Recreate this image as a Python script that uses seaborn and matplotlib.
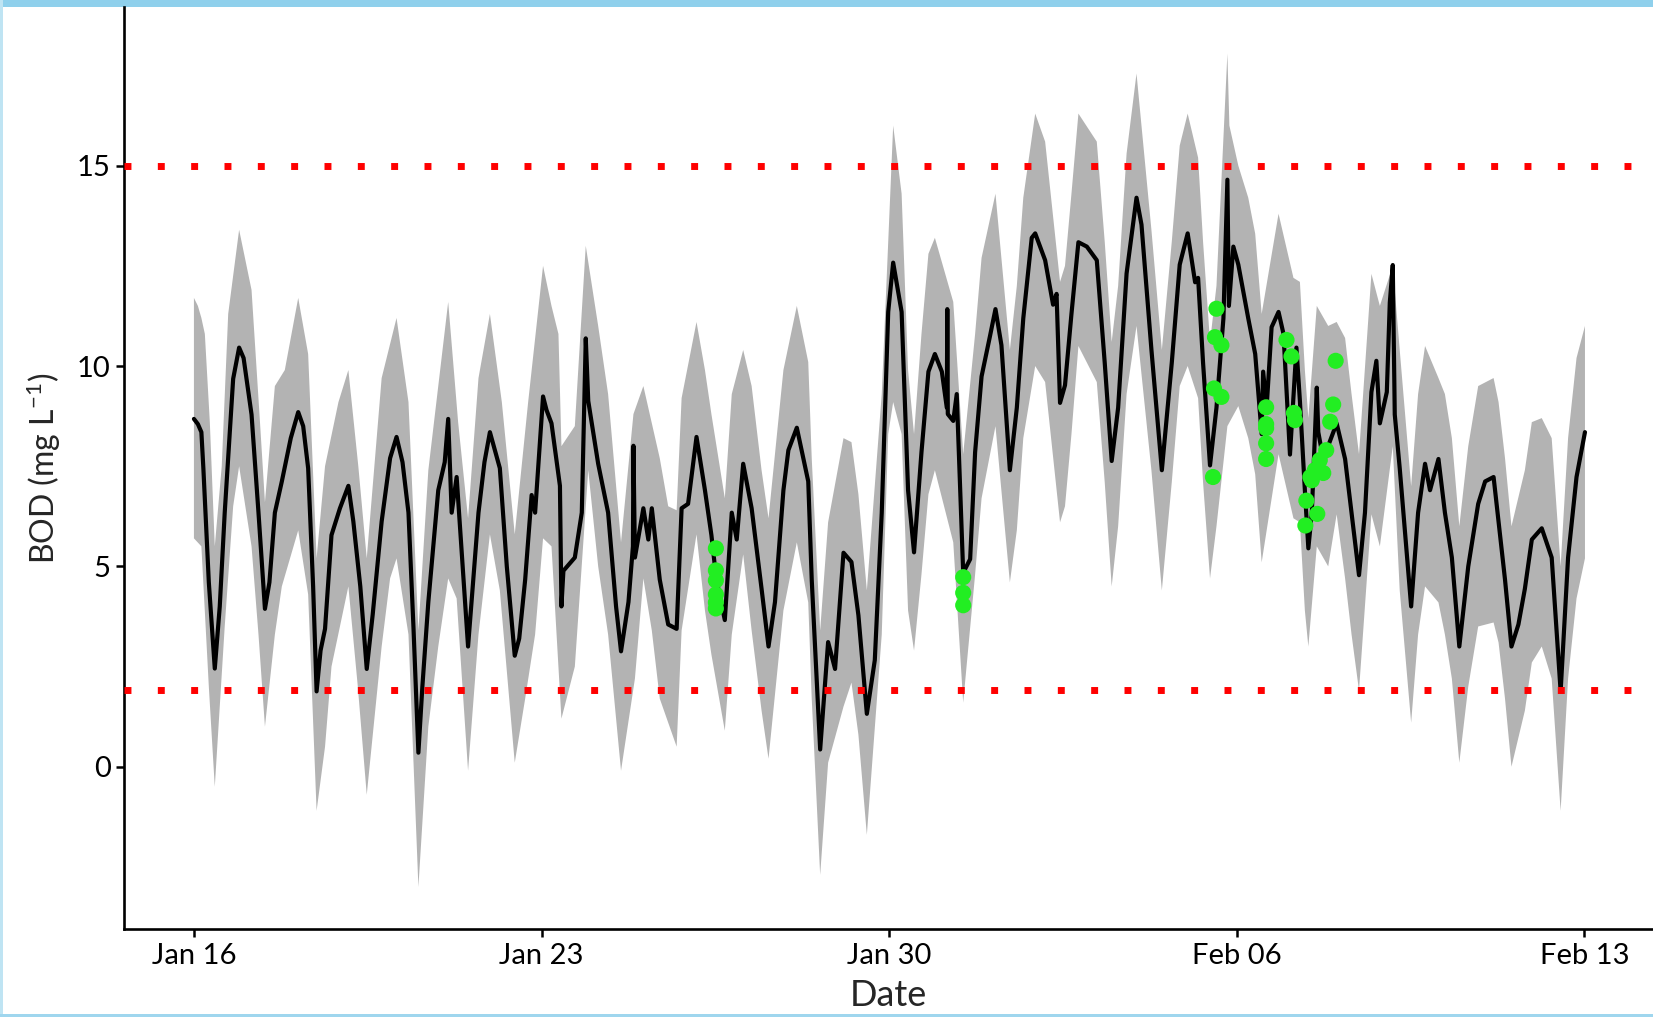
import numpy as np
import pandas as pd
import matplotlib
matplotlib.use("Agg")
import matplotlib.pyplot as plt
import matplotlib.dates as mdates
from matplotlib.patches import Rectangle
import seaborn as sns

# ---------------- data ----------------
start = pd.Timestamp("2017-01-16 00:00")

# modelled mean BOD: day offset from Jan 16, value (mg/L)
mean_days = [0.00, 0.08, 0.15, 0.19, 0.30, 0.42, 0.52, 0.62, 0.79, 0.91, 1.00, 1.16, 1.30, 1.43, 1.52,
             1.63, 1.77, 1.95, 2.10, 2.20, 2.30, 2.40, 2.47, 2.55, 2.64, 2.77, 2.94, 3.11, 3.21, 3.35,
             3.48, 3.60, 3.78, 3.95, 4.08, 4.20, 4.32, 4.42, 4.52, 4.60, 4.72, 4.92, 5.05, 5.12, 5.19,
             5.29, 5.40, 5.52, 5.62, 5.73, 5.85, 5.96, 6.16, 6.30, 6.46, 6.55, 6.67, 6.80, 6.87, 7.03,
             7.10, 7.20, 7.37, 7.40, 7.44, 7.67, 7.81, 7.89, 7.94, 8.14, 8.34, 8.50, 8.60, 8.75, 8.84,
             8.85, 8.88, 9.05, 9.15, 9.22, 9.38, 9.55, 9.72, 9.82, 9.95, 10.12, 10.29, 10.42, 10.52,
             10.69, 10.83, 10.93, 11.06, 11.23, 11.43, 11.57, 11.70, 11.87, 11.97, 12.14, 12.37, 12.44,
             12.61, 12.77, 12.91, 13.08, 13.24, 13.38, 13.55, 13.71, 13.85, 13.98, 14.08, 14.25, 14.38,
             14.50, 14.65, 14.79, 14.92, 15.06, 15.16, 15.17, 15.18, 15.29, 15.36, 15.49, 15.63, 15.73,
             15.86, 16.03, 16.14, 16.26, 16.43, 16.57, 16.70, 16.87, 16.94, 17.14, 17.30, 17.37, 17.44,
             17.54, 17.67, 17.81, 17.98, 18.18, 18.34, 18.48, 18.61, 18.78, 18.98, 19.08, 19.28, 19.49,
             19.69, 19.85, 20.01, 20.16, 20.22, 20.32, 20.46, 20.59, 20.73, 20.81, 20.84, 20.93, 21.03,
             21.23, 21.37, 21.50, 21.53, 21.60, 21.70, 21.84, 21.94, 22.07, 22.14, 22.20, 22.27, 22.37,
             22.44, 22.51, 22.61, 22.64, 22.74, 22.84, 23.01, 23.18, 23.31, 23.46, 23.58, 23.71, 23.81,
             23.88, 24.02, 24.08, 24.14, 24.18, 24.28, 24.51, 24.65, 24.79, 24.89, 25.06, 25.19, 25.33,
             25.48, 25.66, 25.86, 26.00, 26.17, 26.27, 26.40, 26.53, 26.67, 26.80, 26.94, 27.14, 27.34,
             27.52, 27.67, 27.84, 28.01]
mean_bod = [8.68, 8.55, 8.35, 7.45, 4.60, 2.45, 4.00, 6.34, 9.68, 10.46, 10.20, 8.79, 6.34, 3.94, 4.60,
            6.34, 7.12, 8.20, 8.85, 8.50, 7.45, 4.50, 1.88, 2.90, 3.44, 5.78, 6.45, 7.01, 6.12, 4.50,
            2.44, 3.80, 6.12, 7.70, 8.23, 7.60, 6.34, 3.50, 0.35, 2.00, 4.11, 6.90, 7.60, 8.68, 6.34,
            7.23, 5.20, 3.00, 4.60, 6.34, 7.60, 8.35, 7.45, 5.00, 2.77, 3.20, 4.67, 6.78, 6.34, 9.24,
            8.90, 8.57, 7.01, 4.00, 4.89, 5.22, 6.34, 10.69, 9.13, 7.56, 6.34, 4.00, 2.88, 4.11, 5.50,
            8.01, 5.22, 6.45, 5.67, 6.45, 4.67, 3.55, 3.44, 6.45, 6.56, 8.23, 6.90, 5.78, 4.67,
            3.66, 6.34, 5.67, 7.56, 6.45, 4.44, 3.00, 4.11, 6.90, 7.90, 8.46, 7.12, 4.67,
            0.43, 3.11, 2.44, 5.34, 5.11, 3.78, 1.32, 2.66, 6.34, 11.35, 12.58, 11.35, 6.90,
            5.35, 7.85, 9.86, 10.30, 9.86, 8.96, 11.42, 8.80, 8.63, 9.30, 4.84, 5.18, 7.85,
            9.74, 10.75, 11.42, 10.52, 7.40, 8.96, 11.19, 13.20, 13.31, 12.64, 11.53, 11.80, 9.08,
            9.52, 11.30, 13.09, 12.98, 12.64, 10.08, 7.63, 8.96, 12.31, 14.20, 13.53, 10.41, 7.40,
            10.08, 12.53, 13.31, 12.09, 12.20, 10.08, 7.52, 8.96, 11.19, 14.65, 11.50, 12.98, 12.53,
            11.19, 10.30, 8.30, 9.86, 8.96, 10.97, 11.35, 10.80, 7.79, 9.24, 10.46, 9.13, 6.90,
            5.45, 6.34, 9.46, 8.35, 7.68, 8.01, 8.57, 7.68, 6.34, 4.78, 6.34, 9.35, 10.13,
            8.57, 9.35, 11.58, 12.52, 8.79, 7.45, 4.00, 6.34, 7.56, 6.90, 7.68, 6.34, 5.22,
            3.00, 5.00, 6.56, 7.12, 7.23, 6.12, 4.67, 3.00, 3.55, 4.44, 5.67, 5.95, 5.22,
            1.88, 5.22, 7.23, 8.35]

# upper edge of the uncertainty band
upper_days = [0.00, 0.08, 0.15, 0.22, 0.32, 0.42, 0.56, 0.69, 0.91, 1.16, 1.33, 1.43, 1.63, 1.83, 2.10,
              2.30, 2.47, 2.64, 2.91, 3.11, 3.31, 3.48, 3.78, 4.08, 4.32, 4.52, 4.72, 5.12, 5.32,
              5.52, 5.73, 5.96, 6.20, 6.46, 6.73, 7.03, 7.20, 7.34, 7.40, 7.67, 7.89, 8.14, 8.34,
              8.60, 8.85, 9.05, 9.38, 9.55, 9.72, 9.82, 10.12, 10.29, 10.42, 10.69, 10.83, 11.06,
              11.23, 11.43, 11.57, 11.87, 12.14, 12.37, 12.44, 12.61, 12.77, 13.08, 13.24, 13.38,
              13.55, 13.85, 14.08, 14.25, 14.38, 14.50, 14.65, 14.79, 14.92, 15.29, 15.49, 15.73,
              15.86, 16.14, 16.43, 16.57, 16.70, 16.94, 17.14, 17.44, 17.54, 17.67, 17.81, 18.18,
              18.34, 18.48, 18.61, 18.78, 18.98, 19.28, 19.49, 19.69, 19.85, 20.01, 20.22, 20.32,
              20.46, 20.59, 20.81, 20.85, 21.03, 21.23, 21.37, 21.50, 21.84, 22.14, 22.27, 22.37,
              22.44, 22.61, 22.84, 23.01, 23.18, 23.31, 23.46, 23.71, 23.88, 24.14, 24.28, 24.51,
              24.65, 24.79, 25.06, 25.19, 25.33, 25.48, 25.66, 25.86, 26.17, 26.27, 26.40, 26.53,
              26.80, 26.94, 27.14, 27.34, 27.52, 27.67, 27.84, 28.01]
upper_bod = [11.7, 11.5, 11.2, 10.8, 8.6, 5.5, 7.5, 11.3, 13.4, 11.9, 8.6, 6.6, 9.5, 9.9, 11.7,
             10.3, 5.2, 7.5, 9.1, 9.9, 7.5, 5.2, 9.7, 11.2, 9.1, 3.4, 7.4, 11.6, 8.6,
             6.2, 9.7, 11.3, 9.1, 5.8, 9.1, 12.5, 11.5, 10.8, 8.0, 8.5, 13.0, 11.0, 9.3,
             5.6, 8.8, 9.5, 7.7, 6.5, 6.4, 9.2, 11.1, 9.9, 8.8, 6.7, 9.3, 10.4,
             9.5, 7.4, 6.2, 9.9, 11.5, 10.1, 7.7, 3.4, 6.1, 8.2, 8.1, 6.8,
             4.4, 9.3, 16.0, 14.3, 9.9, 8.3, 10.8, 12.8, 13.2, 11.6, 7.8, 10.8,
             12.7, 14.3, 10.4, 12.0, 14.2, 16.3, 15.6, 12.1, 12.5, 14.3, 16.3, 15.6,
             13.1, 10.6, 12.0, 15.3, 17.3, 13.4, 10.4, 13.1, 15.5, 16.3, 15.2, 13.1,
             10.6, 12.0, 17.8, 16.0, 15.0, 14.2, 13.3, 11.3, 13.8, 12.2, 12.1, 9.9,
             8.7, 11.5, 11.0, 11.1, 10.7, 9.3, 7.8, 12.3, 11.5, 12.5, 10.4, 7.0,
             9.3, 10.5, 9.7, 9.3, 8.2, 6.0, 8.0, 9.5, 9.7, 9.1, 7.7, 6.0,
             7.4, 8.6, 8.7, 8.2, 5.0, 8.2, 10.2, 11.0]

# lower edge of the uncertainty band
lower_days = [0.00, 0.15, 0.30, 0.42, 0.62, 0.79, 0.91, 1.16, 1.30, 1.43, 1.63, 1.77, 2.10, 2.30, 2.47,
              2.64, 2.77, 2.94, 3.11, 3.30, 3.48, 3.78, 3.95, 4.08, 4.32, 4.52, 4.72, 4.92, 5.12,
              5.29, 5.52, 5.73, 5.96, 6.16, 6.46, 6.67, 6.87, 7.03, 7.20, 7.40, 7.67, 7.94, 8.14,
              8.34, 8.60, 8.88, 9.05, 9.22, 9.38, 9.72, 9.82, 10.12, 10.29, 10.42, 10.69, 10.83,
              11.06, 11.23, 11.43, 11.57, 11.87, 12.14, 12.37, 12.44, 12.61, 12.77, 13.08, 13.24,
              13.38, 13.55, 13.85, 13.98, 14.08, 14.25, 14.38, 14.50, 14.65, 14.79, 14.92, 15.29,
              15.49, 15.73, 15.86, 16.14, 16.43, 16.57, 16.70, 16.94, 17.14, 17.44, 17.54, 17.67,
              17.81, 18.18, 18.34, 18.48, 18.61, 18.78, 18.98, 19.28, 19.49, 19.69, 19.85, 20.01,
              20.22, 20.32, 20.46, 20.59, 20.81, 21.03, 21.23, 21.37, 21.50, 21.84, 22.14, 22.27,
              22.37, 22.44, 22.61, 22.84, 23.01, 23.18, 23.31, 23.46, 23.71, 23.88, 24.14, 24.28,
              24.51, 24.65, 24.79, 25.06, 25.19, 25.33, 25.48, 25.66, 25.86, 26.17, 26.27, 26.40,
              26.53, 26.80, 26.94, 27.14, 27.34, 27.52, 27.67, 27.84, 28.01]
lower_bod = [5.7, 5.5, 2.0, -0.5, 3.5, 6.5, 7.5, 5.5, 3.3, 1.0, 3.3, 4.5, 5.9, 4.3, -1.1,
             0.5, 2.5, 3.5, 4.5, 2.0, -0.7, 3.0, 4.7, 5.2, 3.3, -3.0, 1.0, 3.0, 4.7,
             4.2, -0.1, 3.3, 5.8, 4.4, 0.1, 1.7, 3.3, 5.7, 5.5, 1.2, 2.5, 7.4, 5.0,
             3.3, -0.1, 2.2, 4.7, 3.4, 1.7, 0.5, 3.4, 5.8, 3.9, 2.8, 0.9, 3.3,
             5.3, 3.4, 1.4, 0.2, 3.9, 5.6, 4.1, 1.7, -2.7, 0.1, 1.5, 2.1,
             0.8, -1.7, 3.3, 8.3, 9.1, 8.3, 3.9, 2.9, 4.8, 6.8, 7.4, 5.6,
             1.6, 4.8, 6.7, 8.5, 4.6, 5.9, 8.2, 10.0, 9.6, 6.1, 6.5, 8.3,
             10.5, 9.6, 7.1, 4.5, 6.0, 9.3, 11.0, 7.4, 4.4, 7.1, 9.5, 10.0,
             9.2, 7.1, 4.7, 6.0, 8.5, 9.0, 8.2, 7.3, 5.1, 7.8, 6.2, 6.1,
             3.9, 3.0, 5.5, 5.0, 6.3, 4.7, 3.3, 1.9, 6.3, 5.5, 8.0, 4.4,
             1.1, 3.3, 4.5, 4.1, 3.3, 2.2, 0.1, 2.0, 3.5, 3.6, 3.1, 1.7,
             0.0, 1.4, 2.6, 3.0, 2.2, -1.1, 2.2, 4.2, 5.2]

# observed BOD samples (green points)
obs_days = [10.51, 10.51, 10.51, 10.51, 10.51, 10.51,
            15.49, 15.49, 15.49,
            20.59, 20.56, 20.69, 20.54, 20.69, 20.52,
            21.59, 21.59, 21.59, 21.59, 21.59,
            22.00, 22.10, 22.15, 22.17,
            22.99, 22.94, 22.88, 22.80, 22.67, 22.57, 22.51, 22.74, 22.40, 22.62, 22.38, 22.48]
obs_bod = [5.45, 4.90, 4.65, 4.30, 4.10, 3.95,
           4.73, 4.34, 4.03,
           11.43, 10.72, 10.52, 9.44, 9.23, 7.23,
           8.97, 8.55, 8.45, 8.07, 7.68,
           10.65, 10.24, 8.83, 8.65,
           10.13, 9.04, 8.61, 7.90, 7.65, 7.40, 7.15, 7.33, 6.64, 6.31, 6.02, 7.23]

# thresholds (red dotted lines)
thresholds = [15.0, 1.92]

# axis ticks
tick_dates = ["2017-01-16", "2017-01-23", "2017-01-30", "2017-02-06", "2017-02-13"]
y_ticks = [0, 5, 10, 15]

# ---------------- build frames ----------------
def to_time(days):
    return start + pd.to_timedelta(np.asarray(days, dtype=float), unit="D")

mean_df = pd.DataFrame({"Date": to_time(mean_days), "BOD": mean_bod})
obs_df = pd.DataFrame({"Date": to_time(obs_days), "BOD": obs_bod})

ui = np.argsort(upper_days, kind="stable")
li = np.argsort(lower_days, kind="stable")
up_t = mdates.date2num(to_time(np.asarray(upper_days)[ui]))
up_v = np.asarray(upper_bod)[ui]
lo_t = mdates.date2num(to_time(np.asarray(lower_days)[li]))
lo_v = np.asarray(lower_bod)[li]

# ---------------- figure ----------------
sns.set_style("ticks")
plt.rcParams["font.family"] = ["Lato", "DejaVu Sans"]
plt.rcParams["mathtext.fontset"] = "custom"
plt.rcParams["mathtext.rm"] = "Lato"
plt.rcParams["mathtext.it"] = "Lato:italic"

W, H = 1653, 1017
fig = plt.figure(figsize=(W / 100, H / 100), dpi=100)
fig.patch.set_facecolor("white")

# thin photo-like frame of the original slide
fig.patches.append(Rectangle((0, 1 - 7 / H), 1, 7 / H, transform=fig.transFigure,
                             facecolor="#8fd0ec", edgecolor="none", zorder=-1))
fig.patches.append(Rectangle((0, 0), 3 / W, 1, transform=fig.transFigure,
                             facecolor="#bfe4f3", edgecolor="none", zorder=-1))
fig.patches.append(Rectangle((0, 0), 1, 3 / H, transform=fig.transFigure,
                             facecolor="#9fd6ee", edgecolor="none", zorder=-1))

left, right, bottom, top = 124.4, 1653, 929, 7
ax = fig.add_axes([left / W, 1 - bottom / H, (right - left) / W, (bottom - top) / H])
ax.set_facecolor("white")

# band
ax.fill(np.concatenate([up_t, lo_t[::-1]]),
        np.concatenate([up_v, lo_v[::-1]]),
        color="#b3b3b3", linewidth=0, zorder=1)

# mean line
sns.lineplot(data=mean_df, x="Date", y="BOD", ax=ax, color="black", linewidth=3.0,
             estimator=None, sort=False, zorder=3)

# thresholds
for t in thresholds:
    ax.axhline(t, color="#ff0000", linewidth=5.0, linestyle=(0, (1, 3.8)),
               dash_capstyle="butt", zorder=4)

# observations
sns.scatterplot(data=obs_df, x="Date", y="BOD", ax=ax, color="#22ee22", s=135,
                edgecolor="none", linewidth=0, zorder=5)

# axes limits
x0 = mdates.date2num(start)
ax.set_xlim(x0 - 1.40, x0 + 29.38)
ax.set_ylim(-4.05, 18.96)

ax.set_xticks(mdates.date2num(pd.to_datetime(tick_dates)))
ax.xaxis.set_major_formatter(mdates.DateFormatter("%b %d"))
ax.set_yticks(y_ticks)

ax.tick_params(axis="both", labelsize=21, width=1.8, length=6, color="black",
               labelcolor="black", pad=4)
for side in ["top", "right"]:
    ax.spines[side].set_visible(False)
for side in ["left", "bottom"]:
    ax.spines[side].set_linewidth(1.9)
    ax.spines[side].set_color("black")

ax.set_xlabel("Date", fontsize=26, labelpad=7)
ax.set_ylabel("BOD (mg L$^{-1}$)", fontsize=23, labelpad=10)
ax.grid(False)

fig.savefig("out.png", dpi=100)
